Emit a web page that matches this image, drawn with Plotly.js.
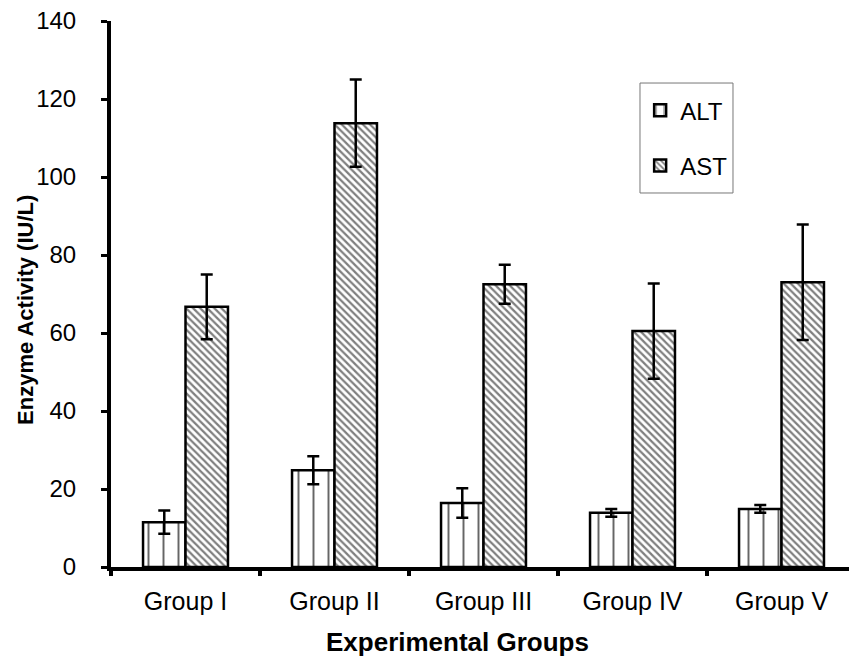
<!DOCTYPE html>
<html><head><meta charset="utf-8">
<script src="https://cdn.plot.ly/plotly-3.0.1.min.js"></script>
<style>body{margin:0;}#chart{width:849px;height:661px;}</style>
</head><body><div id="chart"></div>
<script>
const groups = ["Group I","Group II","Group III","Group IV","Group V"];
const altValues = [11.5, 24.8, 16.4, 13.9, 14.9];
const altErrors = [3.0, 3.6, 3.8, 1.0, 1.0];
const astValues = [66.7, 113.8, 72.5, 60.5, 73.0];
const astErrors = [8.3, 11.2, 5.0, 12.2, 14.8];
const xTitle = 'Experimental Groups';
const yTitle = 'Enzyme Activity (IU/L)';

const errStyle = {type:'data', visible:true, color:'#000', thickness:2.5, width:6};
const traces = [
  {type:'bar', name:'ALT', x:groups, y:altValues, legendgroup:'a',
   error_y:Object.assign({array:altErrors}, errStyle),
   marker:{color:'#fff', line:{color:'#000', width:2.5},
     pattern:{shape:'|', fgcolor:'#000', bgcolor:'#fff', fgopacity:0.6, size:15, solidity:0.13, fillmode:'overlay'}}},
  {type:'bar', name:'AST', x:groups, y:astValues, legendgroup:'b',
   error_y:Object.assign({array:astErrors}, errStyle),
   marker:{color:'#fff', line:{color:'#000', width:2.5},
     pattern:{shape:'\\', fgcolor:'#000', bgcolor:'#fff', size:5, solidity:0.45, fillmode:'overlay'}}}
];
const layout = {
  width:849, height:661,
  margin:{l:111, r:0, t:21, b:94},
  paper_bgcolor:'#fff', plot_bgcolor:'#fff',
  font:{family:'"Liberation Sans", Arial, sans-serif', size:24, color:'#000'},
  barmode:'group', bargap:0.43, bargroupgap:0,
  showlegend:true,
  legend:{x:0.717, y:0.877, xanchor:'left', yanchor:'top', borderwidth:0,
    bgcolor:'rgba(0,0,0,0)', tracegroupgap:21, font:{size:24}},
  shapes:[{type:'rect', xref:'paper', yref:'paper', x0:0.7168, x1:0.8428, y0:0.685, y1:0.8864,
    line:{color:'#777', width:1}, fillcolor:'#fff', layer:'above'}],
  xaxis:{range:[-0.5, 4.453], showline:true, linecolor:'#000', linewidth:4, ticks:'outside', tickson:'boundaries',
    ticklen:5, tickwidth:4, tickcolor:'#000', showgrid:false, zeroline:false, ticklabelstandoff:9,
    tickfont:{size:25}},
  yaxis:{range:[0,140], dtick:20, showline:true, linecolor:'#000', linewidth:4, ticks:'outside',
    ticklen:6, tickwidth:3, tickcolor:'#000', showgrid:false, zeroline:false, ticklabelstandoff:20,
    tickfont:{size:24}},
  annotations:[
    {text:'<b>'+xTitle+'</b>', xref:'paper', yref:'paper', x:0.470, y:-0.137, xanchor:'center', yanchor:'middle',
     showarrow:false, font:{size:26}},
    {text:'<b>'+yTitle+'</b>', xref:'paper', yref:'paper', x:-0.115, y:0.471, xanchor:'center', yanchor:'middle',
     showarrow:false, textangle:-90, font:{size:22}}
  ]
};
Plotly.newPlot('chart', traces, layout, {displayModeBar:false});
</script></body></html>
